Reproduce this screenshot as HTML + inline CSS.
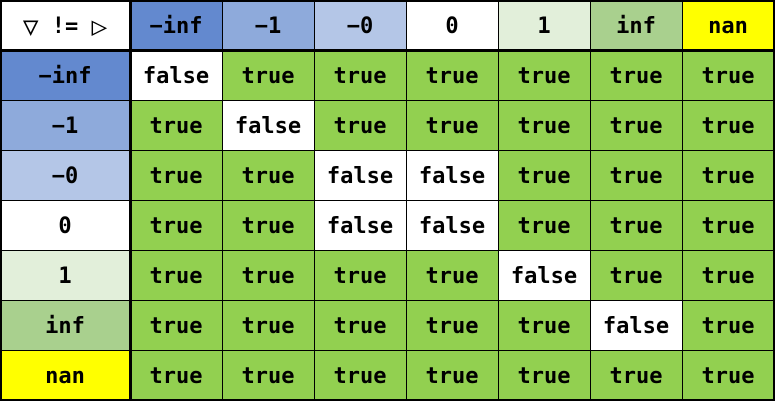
<!DOCTYPE html>
<html><head><meta charset="utf-8"><style>
html,body{margin:0;padding:0;background:#fff;}
#g{position:relative;width:775px;height:401px;overflow:hidden;font-family:"DejaVu Sans Mono","Liberation Mono",monospace;}
.c{position:absolute;display:flex;align-items:center;justify-content:center;font-size:22px;color:#000;font-weight:bold;box-sizing:border-box;padding-top:3px;}
.t{font-size:26px;font-weight:normal;}
.l{position:absolute;background:#000;}
</style></head><body><div id="g"></div>
<script>
var g=document.getElementById('g');
var xs=[0,130,222,314,406,498,590,682,774];
var ys=[0,50,100,150,200,250,300,350,400];
var labels=['−inf','−1','−0','0','1','inf','nan'];
var cols=['#6389cf','#8eaadb','#b4c6e7','#ffffff','#e2efda','#a9d08e','#ffff00'];
var h='';
function cell(r,c,bg,t){h+='<div class="c" style="left:'+xs[c]+'px;top:'+ys[r]+'px;width:'+(xs[c+1]-xs[c])+'px;height:'+(ys[r+1]-ys[r])+'px;background:'+bg+'">'+t+'</div>';}
cell(0,0,'#fff','<span class="t">▽</span>&nbsp;!=&nbsp;<span class="t">▷</span>');
for(var i=0;i<7;i++){cell(0,i+1,cols[i],labels[i]);cell(i+1,0,cols[i],labels[i]);}
for(var r=0;r<7;r++)for(var c=0;c<7;c++){
 var f=(r<6)&&((r==c)||((r==2||r==3)&&(c==2||c==3)));
 cell(r+1,c+1,f?'#fff':'#92d050',f?'false':'true');}
for(var i=1;i<8;i++){
 var w=(i==1)?3:1;
 h+='<div class="l" style="left:'+(xs[i]-(w>1?1:0))+'px;top:0;width:'+w+'px;height:401px"></div>';
 h+='<div class="l" style="top:'+(ys[i]-(w>1?1:0))+'px;left:0;height:'+w+'px;width:775px"></div>';}
h+='<div class="l" style="left:0;top:0;width:775px;height:2px"></div>';
h+='<div class="l" style="left:0;top:399px;width:775px;height:2px"></div>';
h+='<div class="l" style="left:0;top:0;width:2px;height:401px"></div>';
h+='<div class="l" style="left:773px;top:0;width:2px;height:401px"></div>';
g.innerHTML=h;
</script></body></html>
